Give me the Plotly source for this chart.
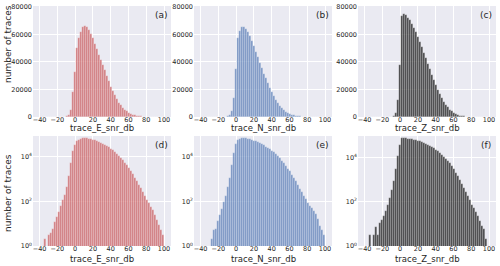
import math
import plotly.graph_objects as go

# Bin centres (dB), bin width 2.25
bin_width = 2.25
bin_centers = [-33.875, -31.625, -29.375, -27.125, -24.875, -22.625, -20.375, -18.125,
               -15.875, -13.625, -11.375, -9.125, -6.875, -4.625, -2.375, -0.125,
               2.125, 4.375, 6.625, 8.875, 11.125, 13.375, 15.625, 17.875, 20.125,
               22.375, 24.625, 26.875, 29.125, 31.375, 33.625, 35.875, 38.125, 40.375,
               42.625, 44.875, 47.125, 49.375, 51.625, 53.875, 56.125, 58.375, 60.625,
               62.875, 65.125, 67.375, 69.625, 71.875, 74.125, 76.375, 78.625, 80.875,
               83.125, 85.375, 87.625, 89.875, 92.125, 94.375, 96.625, 98.875]

counts_E = [2, 0, 3, 4, 6, 12, 20, 32, 60, 110, 190, 450, 1300, 5000, 18000, 33000,
            50000, 57000, 61500, 65000, 66000, 65000, 63000, 60000, 57000, 53000, 49000,
            45000, 41000, 37500, 34000, 30000, 26000, 22000, 19000, 16000, 13000, 10500,
            8500, 6700, 5200, 4000, 3000, 2200, 1600, 1150, 800, 560, 380, 260, 175, 120,
            85, 58, 40, 25, 15, 9, 5, 3]

counts_N = [0, 0, 0, 2, 5, 6, 13, 24, 45, 90, 180, 420, 1100, 4000, 14000, 35000,
            57000, 62500, 65000, 65500, 64000, 61500, 58500, 55000, 51500, 47500, 43500,
            39500, 35500, 31500, 28000, 24500, 21000, 18000, 15200, 12600, 10300, 8300,
            6600, 5100, 3900, 2900, 2150, 1550, 1100, 780, 540, 370, 255, 175, 120, 85,
            62, 48, 38, 26, 16, 8, 5, 3]

counts_Z = [3, 0, 3, 7, 3, 11, 15, 22, 40, 75, 150, 350, 900, 3000, 12000, 38000,
            73500, 75000, 74000, 72000, 70000, 67500, 64500, 61500, 58000, 54500, 50500,
            46500, 42500, 38500, 34500, 30500, 26500, 23000, 19500, 16500, 13500, 11000,
            8800, 7000, 5400, 4100, 3000, 2100, 1450, 1000, 650, 420, 270, 175, 115, 75,
            50, 34, 22, 13, 8, 6, 2, 0]

series = [("trace_E_snr_db", counts_E, "rgba(196,78,82,0.7)"),
          ("trace_N_snr_db", counts_N, "rgba(76,114,176,0.7)"),
          ("trace_Z_snr_db", counts_Z, "rgba(0,0,0,0.7)")]
panel_labels = ["(a)", "(b)", "(c)", "(d)", "(e)", "(f)"]
x_ticks = [-40, -20, 0, 20, 40, 60, 80, 100]
lin_ticks = [0, 20000, 40000, 60000, 80000]
log_tickvals = [1, 100, 10000]
log_ticktext = ["10<sup>0</sup>", "10<sup>2</sup>", "10<sup>4</sup>"]

W, H = 500, 266
ML, MR, MT, MB = 33, 4, 6, 20
PW, PH = W - ML - MR, H - MT - MB

def px_x(x):
    return (x - ML) / PW

def px_y(y):
    return (H - MB - y) / PH

x_px = [(33, 171), (194, 332), (358, 496), (33, 171), (194, 332), (358, 496)]
y_px = [(6, 117)] * 3 + [(136, 246)] * 3
x_range = [-47.375, 107.875]

FONT = "DejaVu Sans"
TXT = "#262626"
fig = go.Figure()
layout = dict(width=W, height=H, margin=dict(l=ML, r=MR, t=MT, b=MB, autoexpand=False),
              paper_bgcolor="white", plot_bgcolor="#EAEAF2",
              showlegend=False, bargap=0, font=dict(family=FONT, color=TXT, size=7))
annotations = []
for i in range(6):
    name, counts, color = series[i % 3]
    logp = i >= 3
    ax = "" if i == 0 else str(i + 1)
    fig.add_trace(go.Bar(x=bin_centers, y=counts, width=bin_width,
                         marker=dict(color=color, line=dict(color="rgba(255,255,255,0.55)", width=0.45)),
                         xaxis="x" + ax, yaxis="y" + ax))
    xa = dict(domain=[px_x(x_px[i][0]), px_x(x_px[i][1])], anchor="y" + ax, range=x_range,
              tickvals=x_ticks, ticks="", showline=False, zeroline=False, automargin=False,
              ticklabelstandoff=-3,
              gridcolor="white", gridwidth=0.8, tickfont=dict(size=6.5, color=TXT))
    if logp:
        peak = max(counts)
        ya = dict(type="log", range=[0, math.log10(peak) + 0.1],
                  tickvals=log_tickvals, ticktext=log_ticktext)
    else:
        ya = dict(range=[0, 80500], tickvals=lin_ticks, tickformat="d")
    ya.update(domain=[px_y(y_px[i][1]), px_y(y_px[i][0])], anchor="x" + ax, ticks="",
              showline=False, zeroline=False, gridcolor="white", automargin=False,
              gridwidth=0.8, tickfont=dict(size=6.5, color=TXT))
    layout["xaxis" + ax] = xa
    layout["yaxis" + ax] = ya
    annotations.append(dict(text=panel_labels[i], xref="x" + ax + " domain",
                            yref="y" + ax + " domain", x=0.93, y=0.92,
                            xanchor="center", yanchor="middle", showarrow=False,
                            font=dict(size=9, color=TXT, family=FONT)))
    # x-axis title
    xc = (x_px[i][0] + x_px[i][1]) / 2
    yt = 128 if i < 3 else 258.5
    annotations.append(dict(text=name, xref="paper", yref="paper",
                            x=px_x(xc), y=px_y(yt), xanchor="center", yanchor="middle",
                            showarrow=False, font=dict(size=8.5, color=TXT, family=FONT)))

for yc in [44, 193]:
    annotations.append(dict(text="number of traces", xref="paper", yref="paper",
                            x=px_x(8), y=px_y(yc), textangle=-90,
                            xanchor="center", yanchor="middle", showarrow=False,
                            font=dict(size=9, color=TXT, family=FONT)))
layout["annotations"] = annotations
fig.update_layout(**layout)
fig.write_html("out.html", config={"displayModeBar": False},
               post_script="document.body.style.margin='0';document.body.style.padding='0';")
